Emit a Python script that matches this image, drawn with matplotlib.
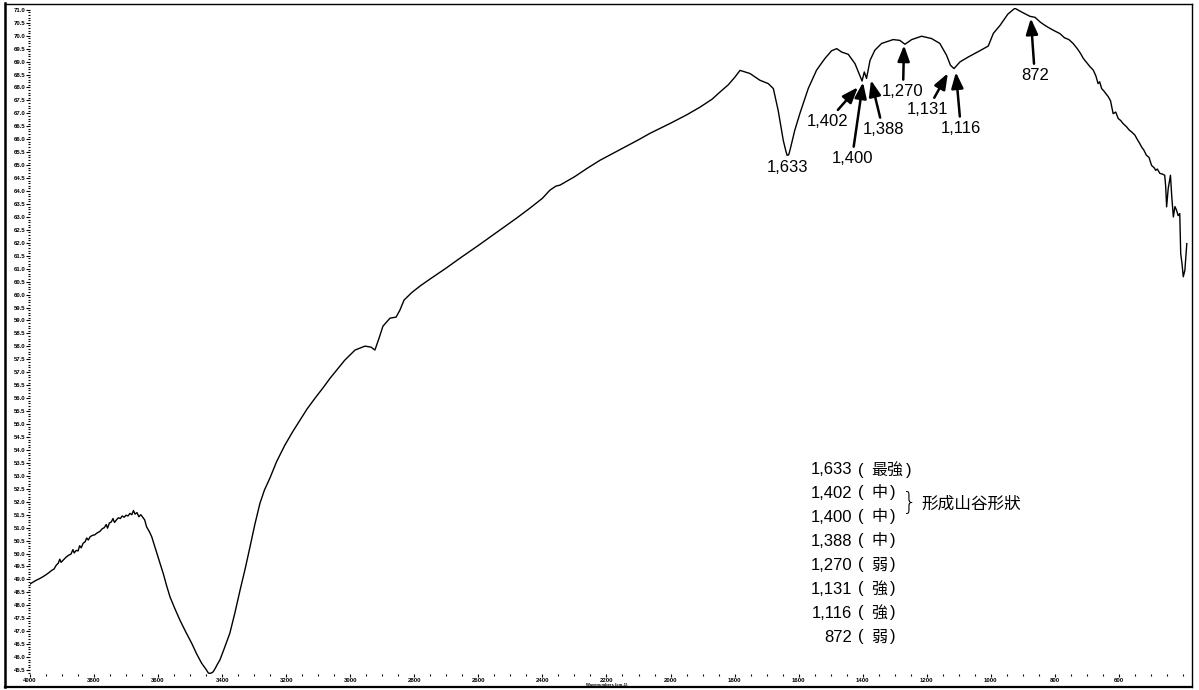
import numpy as np
import matplotlib
matplotlib.use("Agg")
import matplotlib.pyplot as plt
from matplotlib.ticker import FixedLocator, FormatStrFormatter

# ---- IR spectrum (wavenumber in cm-1, transmittance %) ----
wavenumber = [
    4000, 3990, 3980, 3970, 3960, 3950, 3940, 3932, 3925, 3918, 3912, 3907, 3903,
    3896, 3888, 3880, 3872, 3866, 3862, 3856, 3850, 3845, 3840, 3834, 3828, 3823,
    3818, 3812, 3805, 3798, 3790, 3782, 3775, 3768, 3762, 3758, 3752, 3746, 3741,
    3736, 3730, 3724, 3718, 3712, 3706, 3700, 3694, 3688, 3682, 3677, 3672, 3666,
    3660, 3654, 3648, 3642, 3636, 3628, 3620, 3612, 3604, 3594, 3584, 3574, 3563,
    3548, 3532, 3514, 3495, 3480, 3464, 3450, 3443, 3436, 3428, 3420, 3415, 3407,
    3395, 3376, 3360, 3344, 3328, 3313, 3298, 3282, 3268, 3251, 3230, 3204, 3180,
    3157, 3135, 3110, 3085, 3063, 3040, 3017, 2985, 2954, 2935, 2923, 2910, 2898,
    2876, 2857, 2845, 2832, 2807, 2780, 2751, 2700, 2657, 2600, 2533, 2480, 2439,
    2400, 2377, 2358, 2345, 2300, 2260, 2220, 2150, 2100, 2064, 2000, 1950, 1908,
    1870, 1846, 1820, 1799, 1783, 1752, 1721, 1695, 1679, 1664, 1648, 1640, 1636,
    1631, 1627, 1612, 1596, 1570, 1544, 1518, 1497, 1481, 1466, 1445, 1424, 1409,
    1402, 1395, 1388, 1377, 1362, 1341, 1305, 1284, 1268, 1247, 1216, 1185, 1159,
    1138, 1126, 1115, 1096, 1070, 1034, 1008, 992, 971, 947, 925, 903, 878, 862,
    845, 831, 815, 800, 784, 770, 756, 743, 730, 720, 711, 700, 690, 680, 672,
    665, 660, 654, 648, 640, 633, 626, 618, 610, 602, 594, 588, 582, 576, 568,
    560, 550, 542, 536, 529, 522, 514, 506, 498, 490, 485, 480, 472, 465, 457,
    454, 451, 446, 439, 435, 430, 425, 420, 415, 410, 407, 403, 399, 394, 388,
]
transmittance = [
    48.82, 48.90, 48.97, 49.03, 49.10, 49.18, 49.27, 49.35, 49.40, 49.55, 49.62, 49.78, 49.66,
    49.75, 49.85, 49.93, 49.98, 50.15, 50.02, 50.12, 50.10, 50.30, 50.22, 50.40, 50.45, 50.60,
    50.52, 50.65, 50.70, 50.72, 50.80, 50.85, 50.95, 51.00, 51.12, 50.98, 51.18, 51.22, 51.35,
    51.20, 51.30, 51.38, 51.35, 51.45, 51.40, 51.48, 51.45, 51.55, 51.50, 51.66, 51.52, 51.58,
    51.42, 51.50, 51.40, 51.30, 51.03, 50.86, 50.65, 50.33, 50.00, 49.62, 49.23, 48.78, 48.33,
    47.88, 47.43, 46.98, 46.53, 46.13, 45.76, 45.52, 45.38, 45.37, 45.43, 45.60, 45.72, 45.89,
    46.28, 46.92, 47.72, 48.59, 49.42, 50.26, 51.12, 51.94, 52.45, 52.91, 53.55, 54.19, 54.70,
    55.15, 55.58, 56.00, 56.40, 56.77, 57.12, 57.47, 57.86, 58.01, 57.97, 57.86, 58.32, 58.78,
    59.09, 59.13, 59.40, 59.79, 60.09, 60.35, 60.60, 61.03, 61.41, 61.90, 62.49, 62.96, 63.34,
    63.72, 64.03, 64.19, 64.23, 64.55, 64.88, 65.19, 65.65, 65.98, 66.23, 66.62, 66.94, 67.24,
    67.55, 67.82, 68.10, 68.40, 68.66, 68.54, 68.28, 68.15, 67.96, 67.12, 65.96, 65.55, 65.38,
    65.40, 65.58, 66.35, 67.00, 67.96, 68.67, 69.12, 69.42, 69.50, 69.37, 69.28, 68.92, 68.47,
    68.25, 68.60, 68.35, 69.05, 69.44, 69.70, 69.85, 69.82, 69.67, 69.85, 69.98, 69.89, 69.70,
    69.24, 68.86, 68.73, 68.99, 69.18, 69.42, 69.60, 70.09, 70.40, 70.83, 71.06, 70.91, 70.75, 70.71,
    70.52, 70.40, 70.28, 70.18, 70.08, 69.92, 69.85, 69.70, 69.50, 69.32, 69.12, 68.95, 68.80, 68.67, 68.45,
    68.15, 68.22, 67.96, 67.88, 67.75, 67.64, 67.48, 66.99, 67.05, 66.80, 66.72, 66.62, 66.55, 66.48, 66.36,
    66.28, 66.16, 65.98, 65.86, 65.70, 65.58, 65.38, 65.30, 64.99, 64.90, 64.80, 64.85, 64.68, 64.66, 64.61,
    64.20, 63.39, 64.10, 64.61, 63.80, 63.00, 63.40, 63.26, 63.05, 63.13, 61.58, 61.20, 60.69, 60.94, 61.97,
]

# ---- peak annotations: label, arrow head (wn, T), text offset in pixels ----
peak_labels = ["1,402", "1,400", "1,388", "1,270", "1,131", "1,116", "872"]
head_wn = [1415, 1399, 1374, 1271, 1134, 1109, 875]
head_t = [68.01, 68.20, 68.28, 69.63, 68.55, 68.59, 70.67]
text_dx = [-30, -11, 12, -1, -20, 5, 4]
text_dy = [-34, -76, -49, -46, -36, -56, -57]

# ---- band list ----
band_values = ["1,633", "1,402", "1,400", "1,388", "1,270", "1,131", "1,116", "872"]
band_strength = ["最強", "中", "中", "中", "弱", "強", "強", "弱"]
valley_note = "形成山谷形狀"

# ---- axis ticks ----
x_major = list(range(4000, 599, -200))
x_minor = list(range(4000, 399, -50))
y_major = [45.5 + 0.5 * i for i in range(52)]
y_minor = [45.4 + 0.1 * i for i in range(258)]

W, H = 1199, 690
fig = plt.figure(figsize=(W / 100, H / 100), dpi=100)
fig.patch.set_facecolor("white")

fam = ["Liberation Sans", "Noto Sans CJK TC", "DejaVu Sans"]
cjk = ["Noto Sans CJK TC", "DejaVu Sans"]


def fx(px):
    return px / W


def fy(py):
    return 1 - py / H


ax = fig.add_axes([fx(30), fy(674), fx(1190) - fx(30), fy(8) - fy(674)])
ax.plot(wavenumber, transmittance, color="black", lw=1.0, solid_joinstyle="round")
ax.set_xlim(4000, 378)
ax.set_ylim(45.346, 71.07)

for s in ax.spines.values():
    s.set_visible(False)

ax.xaxis.set_major_locator(FixedLocator(x_major))
ax.xaxis.set_minor_locator(FixedLocator(x_minor))
ax.yaxis.set_major_locator(FixedLocator(y_major))
ax.yaxis.set_minor_locator(FixedLocator(y_minor))
ax.yaxis.set_major_formatter(FormatStrFormatter("%.1f"))
ax.tick_params(axis="y", which="major", length=3, width=0.8, pad=0.5,
               labelsize=4.3, direction="out")
ax.tick_params(axis="y", which="minor", length=1.2, width=0.8, direction="out")
ax.tick_params(axis="x", which="major", length=2, width=0.8, pad=0.8,
               labelsize=4.3, direction="out")
ax.tick_params(axis="x", which="minor", length=1.2, width=0.8, direction="out")
for lab in ax.get_yticklabels() + ax.get_xticklabels():
    lab.set_fontweight("bold")
    lab.set_family("Liberation Sans")

fig.text(fx(607), fy(685), "Wavenumbers (cm-1)", fontsize=3, ha="center",
         va="center", family="Liberation Sans", fontweight="bold")

# strongest band label below its minimum
ax.annotate(band_values[0], xy=(1636, 65.38), xytext=(0, -12),
            textcoords="offset pixels", ha="center", va="center",
            fontsize=12, family=fam)

# arrowed peak labels
for lab, hx, hy, dx, dy in zip(peak_labels, head_wn, head_t, text_dx, text_dy):
    ax.annotate(lab, xy=(hx, hy), xytext=(dx, dy), textcoords="offset pixels",
                ha="center", va="center", fontsize=12, family=fam,
                arrowprops=dict(arrowstyle="-|>,head_length=0.95,head_width=0.36",
                                lw=1.8, color="black", shrinkA=1, shrinkB=0,
                                mutation_scale=10))

# band list with relative intensities
line_y = [470, 493, 517, 541, 565, 589, 613, 637]
char_w = 16
for val, st, py in zip(band_values, band_strength, line_y):
    fig.text(fx(852), fy(py), val, ha="right", va="center", fontsize=12, family=fam)
    fig.text(fx(861), fy(py), "(", ha="center", va="center", fontsize=12,
             family="Liberation Sans")
    fig.text(fx(871), fy(py), st, ha="left", va="center", fontsize=11.5, family=cjk)
    fig.text(fx(871 + char_w * len(st) + 6), fy(py), ")", ha="center",
             va="center", fontsize=12, family="Liberation Sans")

fig.text(fx(909), fy(503), "}", ha="center", va="center", fontsize=17,
         family="DejaVu Sans", fontweight="light")
fig.text(fx(921), fy(504), valley_note, ha="left", va="center", fontsize=12,
         family=cjk)

# outer frame
fig.add_artist(plt.Line2D([fx(5), fx(5)], [fy(3), fy(687)], color="black", lw=1.8))
fig.add_artist(plt.Line2D([fx(5), fx(1192)], [fy(4), fy(4)], color="black", lw=1.0))
fig.add_artist(plt.Line2D([fx(1192), fx(1192)], [fy(4), fy(687)], color="black", lw=1.0))
fig.add_artist(plt.Line2D([fx(5), fx(1192)], [fy(687), fy(687)], color="black", lw=1.6))

fig.savefig("out.png", dpi=100)
